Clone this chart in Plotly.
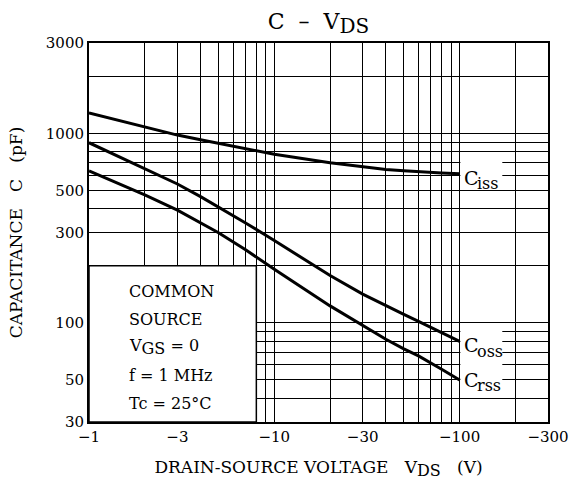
import plotly.graph_objects as go
import math

# ---- data ----
vds = [-1, -2, -3, -4, -5, -7, -10, -20, -30, -40, -50, -60, -80, -100]
c_iss = [1284, 1081, 980, 925, 885, 828, 776, 700, 664, 645, 635, 627, 618, 613]
c_oss = [893, 655, 541, 464, 410, 337, 272, 178, 142, 123, 111, 102, 89, 80]
c_rss = [634, 474, 394, 339, 299, 243, 192, 123, 97, 82, 73, 67, 57, 50]

x_tick_vals = [-1, -3, -10, -30, -100, -300]
x_tick_text = ["−1", "−3", "−10", "−30", "−100", "−300"]
x_minor_vals = [-2, -4, -5, -6, -7, -8, -9, -20, -40, -50, -60, -70, -80, -90, -200]
y_tick_vals = [30, 50, 100, 300, 500, 1000, 3000]
y_minor_vals = [40, 60, 70, 80, 90, 200, 400, 600, 700, 800, 900, 2000]

curve_subs = ["iss", "oss", "rss"]
note_lines = ["COMMON", "SOURCE", "V<sub><span style='font-size:16px'>GS</span></sub> = 0",
              "f = 1 MHz", "Tc = 25°C"]

FONT = "DejaVu Serif"
W, H = 573, 488
L, R, T, B = 89, 25, 43, 66

fig = go.Figure()
absx = [abs(v) for v in vds]
for ys in (c_iss, c_oss, c_rss):
    fig.add_trace(go.Scatter(x=absx, y=ys, mode="lines",
                             line=dict(color="black", width=3, shape="linear"),
                             showlegend=False, hoverinfo="skip"))

# white areas that interrupt the grid
fig.add_shape(type="rect", xref="x", yref="y", x0=1, x1=8, y0=30, y1=200,
              fillcolor="white", line=dict(color="black", width=1.5), layer="between")
fig.add_shape(type="rect", xref="x", yref="y", x0=101, x1=170, y0=520, y1=740,
              fillcolor="white", line=dict(width=0), layer="between")
fig.add_shape(type="rect", xref="x", yref="y", x0=101, x1=170, y0=42, y1=96,
              fillcolor="white", line=dict(width=0), layer="between")

# curve labels at the curve ends: big "C" plus near-full-size subscript
for ys, sub, dy in zip((c_iss, c_oss, c_rss), curve_subs, (-4, -4, 0)):
    xl, yl = math.log10(absx[-1]), math.log10(ys[-1])
    fig.add_annotation(x=xl, y=yl, xref="x", yref="y", text="C", showarrow=False,
                       xanchor="left", yanchor="middle", xshift=2, yshift=dy,
                       font=dict(family=FONT, size=19, color="black"))
    fig.add_annotation(x=xl, y=yl, xref="x", yref="y", text=sub, showarrow=False,
                       xanchor="left", yanchor="middle", xshift=15, yshift=dy - 6,
                       font=dict(family=FONT, size=16, color="black"))

# condition notes in the box
note_y = [291.5, 319, 347, 375, 403]
for txt, py in zip(note_lines, note_y):
    fig.add_annotation(x=(127 - L) / (W - L - R), y=(H - B - py) / (H - T - B),
                       xref="paper", yref="paper", text=txt, showarrow=False,
                       xanchor="left", yanchor="middle",
                       font=dict(family=FONT, size=16, color="black"))

axis_common = dict(type="log", showline=True, linecolor="black", linewidth=2, mirror=True,
                   showgrid=True, gridcolor="black", gridwidth=1, ticks="", zeroline=False,
                   automargin=False,
                   tickfont=dict(family=FONT, size=15, color="black"))

fig.update_xaxes(**axis_common, range=[0, math.log10(300)],
                 tickmode="array", tickvals=[abs(v) for v in x_tick_vals], ticktext=x_tick_text,
                 minor=dict(tickmode="array", tickvals=[abs(v) for v in x_minor_vals],
                            showgrid=True, gridcolor="black", gridwidth=1, ticks=""),
                 title=dict(text="DRAIN-SOURCE VOLTAGE   V<sub><span style='font-size:16px'>DS</span></sub>   (V)",
                            font=dict(family=FONT, size=17, color="black"), standoff=16))
fig.update_yaxes(**axis_common, range=[math.log10(30), math.log10(3000)],
                 tickmode="array", tickvals=y_tick_vals, ticktext=[str(v) for v in y_tick_vals],
                 minor=dict(tickmode="array", tickvals=y_minor_vals,
                            showgrid=True, gridcolor="black", gridwidth=1, ticks=""),
                 title=dict(text="CAPACITANCE   C   (pF)",
                            font=dict(family=FONT, size=17, color="black"), standoff=19))

fig.update_layout(
    width=W, height=H, margin=dict(l=L, r=R, t=T, b=B),
    paper_bgcolor="white", plot_bgcolor="white",
    title=dict(text="C  –  V<sub><span style='font-size:20px'>DS</span></sub>",
               x=(L + (W - L - R) / 2) / W, xanchor="center",
               y=1 - 21 / H, yanchor="middle", font=dict(family=FONT, size=22, color="black")),
)

fig.write_html("out.html", config={"displayModeBar": False},
               post_script="document.body.style.margin='0';document.body.style.padding='0';")
